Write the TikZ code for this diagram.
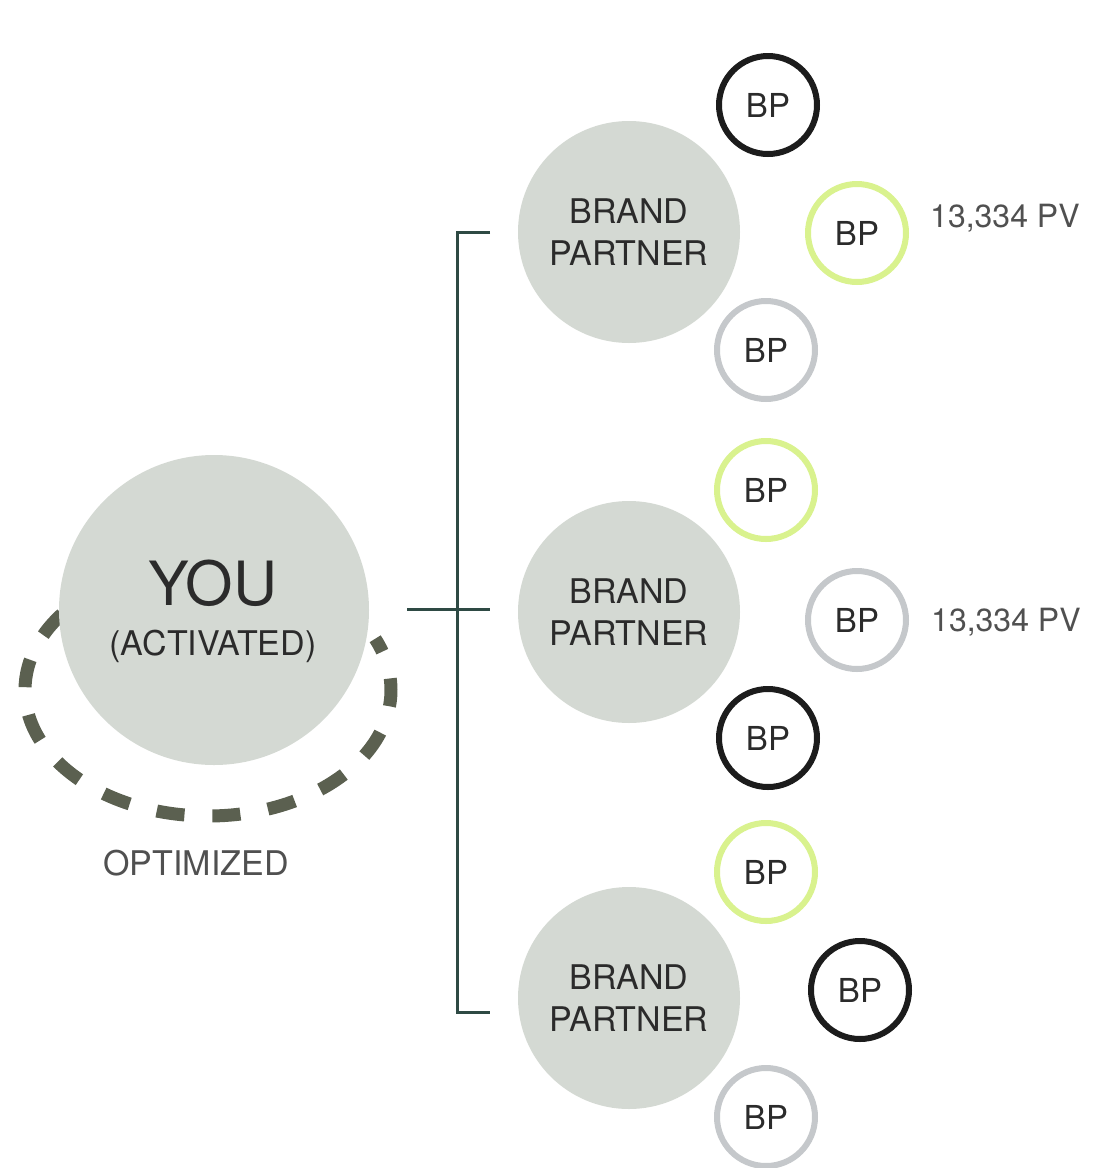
\documentclass[tikz,border=0pt]{standalone}
\usepackage{fontspec}
\setmainfont{TeX Gyre Heros}
\definecolor{bubble}{HTML}{D4D9D3}
\definecolor{ringblack}{HTML}{1C1C1C}
\definecolor{ringgreen}{HTML}{D9F28E}
\definecolor{ringgray}{HTML}{C5C8CB}
\definecolor{dashcol}{HTML}{5B6050}
\definecolor{treecol}{HTML}{2E4A44}
\definecolor{txtdark}{HTML}{2B2B2B}
\definecolor{txtgray}{HTML}{505050}
\tikzset{
  bigbubble/.style={circle, fill=bubble, minimum size=310pt, inner sep=0pt},
  partner/.style={circle, fill=bubble, minimum size=222pt, inner sep=0pt, align=center,
    text=txtdark, font=\fontsize{34}{42}\selectfont},
  bp/.style={circle, minimum size=98pt, inner sep=0pt, line width=6pt, fill=white,
    text=txtdark, font=\fontsize{33}{40}\selectfont},
  bpblack/.style={bp, draw=ringblack},
  bpgreen/.style={bp, draw=ringgreen},
  bpgray/.style={bp, draw=ringgray},
  pv/.style={text=txtgray, font=\fontsize{32}{38}\selectfont, inner sep=0pt},
  tree/.style={draw=treecol, line width=3pt},
  optdash/.style={dashcol, line width=13pt, dash pattern=on 28pt off 28pt, dash phase=42pt},
}
\begin{document}
\begin{tikzpicture}[x=1pt,y=-1pt]
\useasboundingbox (0,0) rectangle (1097,1168);
% dashed optimized arc (behind the YOU circle)
\coordinate (oc) at (208,690);
\draw[optdash] (oc) ++(93:183 and 126) arc[start angle=93, end angle=222, x radius=183, y radius=126];
\draw[optdash] (oc) ++(93:183 and 126) arc[start angle=93, end angle=-24, x radius=183, y radius=126];
% YOU
\node[bigbubble] (you) at (214,610) {};
\node[anchor=base, text=txtdark, font=\fontsize{61}{61}\selectfont, inner sep=0pt] (youtxt) at (213,605) {YOU};
\node[anchor=base, text=txtdark, font=\fontsize{34}{40}\selectfont, inner sep=0pt] (acttxt) at (213,655) {(ACTIVATED)};
\node[anchor=base, text=txtgray, font=\fontsize{34}{40}\selectfont, inner sep=0pt] (opt) at (196,875) {OPTIMIZED};
% brand partners
\node[partner] (p1) at (629,232) {BRAND\\PARTNER};
\node[partner] (p2) at (629,612) {BRAND\\PARTNER};
\node[partner] (p3) at (629,998) {BRAND\\PARTNER};
% BP rings
\node[bpblack] (b11) at (768,105) {BP};
\node[bpgreen] (b12) at (857,233) {BP};
\node[bpgray]  (b13) at (766,350) {BP};
\node[bpgreen] (b21) at (766,490) {BP};
\node[bpgray]  (b22) at (857,620) {BP};
\node[bpblack] (b23) at (768,738) {BP};
\node[bpgreen] (b31) at (766,872) {BP};
\node[bpblack] (b32) at (860,990) {BP};
\node[bpgray]  (b33) at (766,1117) {BP};
% PV labels
\node[pv, anchor=west] (pv1) at (930,218) {13,334 PV};
\node[pv, anchor=west] (pv2) at (931,622) {13,334 PV};
% tree connector
\coordinate (ys) at (407,609);
\coordinate (tt) at (457,232);
\coordinate (tb) at (457,1012);
\coordinate (tm) at (457,609);
\coordinate (e1) at (490,232);
\coordinate (e2) at (490,609);
\coordinate (e3) at (490,1012);
\draw[tree] (e1) -- (tt) -- (tb) -- (e3);
\draw[tree] (ys) -- (tm) -- (e2);
\end{tikzpicture}
\end{document}
